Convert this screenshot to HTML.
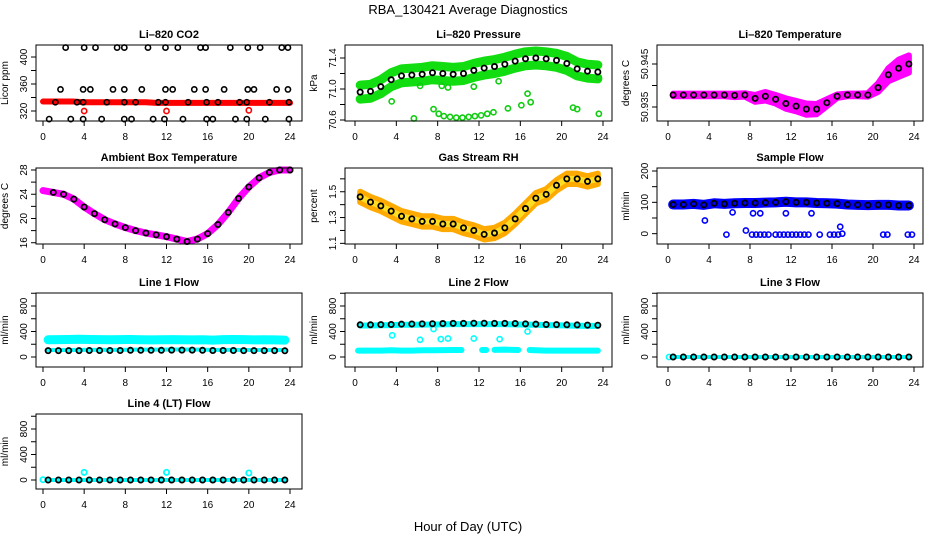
<!DOCTYPE html>
<html><head><meta charset="utf-8"><style>
html,body{margin:0;padding:0;background:#fff;}
svg{display:block;font-family:"Liberation Sans",sans-serif;}
</style></head><body>
<svg id="chart" width="936" height="540" viewBox="0 0 936 540" xmlns="http://www.w3.org/2000/svg">
<rect x="0" y="0" width="936" height="540" fill="#fff"/>
<text x="468" y="14" text-anchor="middle" font-size="13">RBA_130421  Average Diagnostics</text>
<text x="468" y="531" text-anchor="middle" font-size="13">Hour of Day (UTC)</text>
</svg>
<script>
// ---------- data ----------
const xTicks = [0,4,8,12,16,20,24];
const hourGrid = [0.5,1.5,2.5,3.5,4.5,5.5,6.5,7.5,8.5,9.5,10.5,11.5,12.5,13.5,14.5,15.5,16.5,17.5,18.5,19.5,20.5,21.5,22.5,23.5];
const hourFull = [0,1,2,3,4,5,6,7,8,9,10,11,12,13,14,15,16,17,18,19,20,21,22,23,24];

// CO2
const co2HighHours = [2.2,4.0,5.1,7.2,7.9,10.2,11.9,13.1,15.3,15.8,18.2,19.9,21.1,23.2,23.8];
const co2MidHours = [1.7,3.9,4.6,6.8,7.9,9.6,11.9,12.6,14.7,15.8,17.6,19.9,20.5,22.7,23.8];
const co2BandHours = [1.2,3.3,3.9,6.2,7.9,9.0,11.2,11.9,14.1,15.9,17.0,19.1,19.8,22.0,23.9];
const co2LowHours = [0.6,2.7,3.9,5.7,7.9,8.6,10.7,11.8,13.6,15.9,16.5,18.7,19.8,21.6,23.9];
const co2Levels = [414,352,333,308];
const co2Red = [334,334,334,334,333,333,333,333,333,333,333,332,332,332,332,332,332,332,332,332,332,332,332,332,332];
const co2RedOutHours = [4,12,20];
const co2RedOutVals = [320,320,321];

// Pressure
const presMean = [70.96,70.97,71.03,71.12,71.17,71.18,71.19,71.21,71.20,71.19,71.20,71.24,71.27,71.29,71.32,71.36,71.39,71.40,71.39,71.37,71.33,71.26,71.23,71.22];
const presOutHours = [3.55,5.7,6.3,7.6,8.1,8.4,9.0,11.5,13.9,14.8,16.1,16.7,17.0,21.1,21.5,23.6,23.6,8.6,9.2,9.8,10.4,11.0,11.6,12.2,12.8,13.4];
const presOutVals = [70.84,70.62,71.04,70.74,70.68,71.04,71.02,71.03,71.10,70.75,70.79,70.94,70.83,70.76,70.74,70.68,71.15,70.65,70.64,70.63,70.63,70.64,70.65,70.66,70.68,70.70];

// Li-820 temperature
const ltMean = [50.9378,50.9378,50.9378,50.9378,50.9378,50.9378,50.9377,50.9378,50.9370,50.9375,50.9368,50.9358,50.9352,50.9345,50.9345,50.9360,50.9375,50.9378,50.9378,50.9378,50.9395,50.9425,50.9440,50.9450];
const ltSpread = [0.0003,0.0003,0.0003,0.0003,0.0003,0.0003,0.0004,0.0004,0.0008,0.0010,0.0010,0.0012,0.0012,0.0013,0.0012,0.0008,0.0004,0.0003,0.0003,0.0004,0.0010,0.0015,0.0020,0.0020];

// Ambient box temperature
const ambVals = [24.6,24.3,24.0,23.2,21.9,20.8,19.8,19.1,18.5,18.0,17.6,17.3,17.0,16.6,16.2,16.6,17.5,19.0,21.0,23.3,25.2,26.7,27.6,28.0,28.0];

// Gas stream RH
const rhMean = [1.46,1.42,1.39,1.35,1.31,1.29,1.27,1.27,1.25,1.25,1.22,1.20,1.17,1.18,1.22,1.29,1.37,1.45,1.48,1.55,1.60,1.60,1.58,1.60];

// Sample flow
const sfMean = [93,93,95,92,97,95,97,98,98,99,100,102,100,100,98,97,96,93,92,91,92,92,90,90];
const sfOutHours = [3.6,6.3,8.3,9.0,11.5,14.0,16.8,7.6,5.7,8.2,8.6,9.0,9.4,9.8,10.5,10.9,11.3,11.7,12.1,12.5,12.9,13.3,13.7,14.8,15.8,16.2,16.6,17.0,21.0,21.4,23.4,23.8];
const sfOutVals = [42,68,65,65,65,65,22,10,-3,-3,-3,-3,-3,-3,-3,-3,-3,-3,-3,-3,-3,-3,-3,-3,-3,-3,-3,0,-3,-3,-3,-3];

// Line flows
const l1Upper = [270,272,275,278,275,273,270,272,275,270,268,270,272,270,268,270,265,272,274,272,268,270,268,265];
const l1Lower = [110,110,110,112,112,112,112,112,115,115,115,115,118,118,118,115,112,112,112,110,110,110,110,110];
const l1Mean = [100,100,100,100,102,102,102,102,105,105,105,105,108,108,108,105,102,102,102,100,100,100,100,98];
const l2Mean = [505,505,508,510,515,518,520,522,525,528,528,530,530,528,528,526,520,515,510,508,505,503,500,498];
const l2Upper = [495,495,498,500,505,505,508,510,512,515,515,516,515,515,515,512,508,505,500,498,495,490,488,488];
const l2LowHoursA = [0.3,1.5,2.5,3.5,4.5,5.5,6.5,7.5,8.5,9.5,10.3];
const l2LowValsA = [100,100,100,105,100,100,105,105,108,110,110];
const l2LowHoursB = [12.3,12.7];
const l2LowValsB = [110,110];
const l2LowHoursC = [13.5,14.5,15.8];
const l2LowValsC = [112,115,110];
const l2LowHoursD = [16.9,17.5,18.5,19.5,20.5,21.5,22.5,23.5];
const l2LowValsD = [110,105,100,100,100,100,100,100];
const l2OutHours = [3.6,6.3,7.6,8.3,9.0,11.5,14.0,16.7];
const l2OutVals = [340,270,440,280,290,290,280,400];
const l3Mean = [0,0,0,0,0,0,0,0,0,0,0,0,0,0,0,0,0,0,0,0,0,0,0,0];
const l4Mean = [0,0,0,0,0,0,0,0,0,0,0,0,0,0,0,0,0,0,0,0,0,0,0,0];
const l4OutHours = [4,12,20,0];
const l4OutVals = [120,120,110,5];

// ---------- drawing ----------
const NS = "http://www.w3.org/2000/svg";
const svg = document.getElementById('chart');
function el(tag, attrs, parent){
  const e = document.createElementNS(NS, tag);
  for (const k in attrs) e.setAttribute(k, attrs[k]);
  (parent||svg).appendChild(e);
  return e;
}
const cols = [{bx0:36,bx1:302,x0:43,x24:290},{bx0:345,bx1:612,x0:355,x24:603},{bx0:657,bx1:923,x0:668,x24:914}];
const rows = [{by0:45,by1:121},{by0:168,by1:244},{by0:293,by1:367},{by0:414,by1:489}];

function makePanel(name,title,ytitle,col,row,ymin,ymax,yTicks,yLabels){
  const c = cols[col], r = rows[row];
  const g = el('g',{});
  
  
  const sx = h => c.x0 + (h/24)*(c.x24-c.x0);
  const sy = v => r.by1 - (v-ymin)/(ymax-ymin)*(r.by1-r.by0);
  const plot = el('g',{},g);
  
  
  const box = el('rect',{x:c.bx0,y:r.by0,width:c.bx1-c.bx0,height:r.by1-r.by0,fill:'none',stroke:'#000','stroke-width':1},g);
  
  
  const t = el('text',{x:(c.bx0+c.bx1)/2,y:r.by0-7,'text-anchor':'middle','font-size':11,'font-weight':'bold'},g);
  t.textContent = title;
  
  
  const xa = el('g',{},g);
  
  
  el('line',{x1:sx(xTicks[0]),x2:sx(xTicks[xTicks.length-1]),y1:r.by1,y2:r.by1,stroke:'#000'},xa);
  xTicks.forEach(v=>{
    el('line',{x1:sx(v),x2:sx(v),y1:r.by1,y2:r.by1+5,stroke:'#000'},xa);
    const tl = el('text',{x:sx(v),y:r.by1+19,'text-anchor':'middle','font-size':10},xa);
    tl.textContent = v;
    
    
  });
  const ya = el('g',{},g);
  
  
  el('line',{x1:c.bx0,x2:c.bx0,y1:sy(yTicks[0]),y2:sy(yTicks[yTicks.length-1]),stroke:'#000'},ya);
  yTicks.forEach(v=>{
    el('line',{x1:c.bx0-5,x2:c.bx0,y1:sy(v),y2:sy(v),stroke:'#000'},ya);
  });
  yLabels.forEach(v=>{
    const x = c.bx0-9, y = sy(v);
    const tl = el('text',{x:x,y:y,'text-anchor':'middle','font-size':10,transform:`rotate(-90 ${x} ${y})`},ya);
    tl.textContent = v;
    
    
  });
  const yx = c.bx0-28, yy=(r.by0+r.by1)/2;
  const yt = el('text',{x:yx,y:yy,'text-anchor':'middle','font-size':10,transform:`rotate(-90 ${yx} ${yy})`},g);
  yt.textContent = ytitle;
  
  
  return {g:plot,sx,sy};
}
function circles(p,hs,vs,color,r,sw,nm){
  hs.forEach((h,i)=>{
    const e = el('circle',{cx:p.sx(h),cy:p.sy(vs[i]),r:r||2.6,fill:'none',stroke:color,'stroke-width':sw||1.6},p.g);
    
    
  });
}
function band(p,hs,vs,color,w,nm){
  const e = el('polyline',{points:hs.map((h,i)=>p.sx(h)+','+p.sy(vs[i])).join(' '),fill:'none',stroke:color,'stroke-width':w,'stroke-linejoin':'round','stroke-linecap':'round'},p.g);
  
  
}
function spreadBand(p,hs,vs,sp,color,nm){
  const up = hs.map((h,i)=>p.sx(h)+','+p.sy(vs[i]+sp[i]));
  const dn = hs.map((h,i)=>p.sx(h)+','+p.sy(vs[i]-sp[i])).reverse();
  const e = el('polygon',{points:up.concat(dn).join(' '),fill:color,stroke:color,'stroke-width':6,'stroke-linejoin':'round'},p.g);
  
  
}
function constArr(h,v){return h.map(()=>v);}

// CO2
let p = makePanel('co2-panel','Li\u2013820 CO2','Licor ppm',0,0,305.2,417.8,[320,340,360,380,400],[320,360,400]);
band(p,hourFull,co2Red,'#ff0000',6,'co2-red-band');
circles(p,co2RedOutHours,co2RedOutVals,'#ff0000',2.6,1.6,'co2-red-outlier');
circles(p,co2HighHours,constArr(co2HighHours,co2Levels[0]),'#000');
circles(p,co2MidHours,constArr(co2MidHours,co2Levels[1]),'#000');
circles(p,co2BandHours,constArr(co2BandHours,co2Levels[2]),'#000');
circles(p,co2LowHours,constArr(co2LowHours,co2Levels[3]),'#000');

// Pressure
p = makePanel('pressure-panel','Li\u2013820 Pressure','kPa',1,0,70.587,71.568,[70.6,70.8,71.0,71.2,71.4],['70.6','71.0','71.4']);
band(p,hourGrid,presMean.map(v=>v+0.09),'#11dd11',9,'pressure-upper-band');
band(p,hourGrid,presMean.map(v=>v-0.09),'#11dd11',9,'pressure-lower-band');
circles(p,presOutHours,presOutVals,'#11cc11',2.6,1.6,'pressure-outlier');
circles(p,hourGrid,presMean,'#000',2.6,1.8,'pressure-mean');

// Li-820 temperature
p = makePanel('li820-temp-panel','Li\u2013820 Temperature','degrees C',2,0,50.93174,50.94942,[50.935,50.940,50.945],['50.935','50.945']);
spreadBand(p,hourGrid,ltMean,ltSpread,'#ff00ff','li820-temp-band');
circles(p,hourGrid,ltMean,'#000',2.6,1.8,'li820-temp-mean');

// Ambient
p = makePanel('ambient-temp-panel','Ambient Box Temperature','degrees C',0,1,15.79,28.33,[16,18,20,22,24,26,28],[16,20,24,28]);
band(p,hourFull,ambVals,'#ff00ff',7,'ambient-band');
circles(p,hourFull.slice(1),ambVals.slice(1),'#000',2.6,1.8,'ambient-mean');

// RH
p = makePanel('rh-panel','Gas Stream RH','percent',1,1,1.095,1.684,[1.1,1.2,1.3,1.4,1.5,1.6],['1.1','1.3','1.5']);
spreadBand(p,hourGrid,rhMean,constArr(hourGrid,0.04),'#ffaa00','rh-band');
band(p,hourGrid,rhMean,'#ffdd22',6,'rh-band-core');
circles(p,hourGrid,rhMean,'#000',2.6,1.8,'rh-mean');

// Sample flow
p = makePanel('sample-flow-panel','Sample Flow','ml/min',2,1,-33,209.6,[0,50,100,150,200],[0,100,200]);
band(p,hourGrid,sfMean,'#0000ff',10,'sample-flow-band');
circles(p,sfOutHours,sfOutVals,'#0000ff',2.6,1.6,'sample-flow-outlier');
circles(p,hourGrid,sfMean,'#000',2.6,1.8,'sample-flow-mean');

// Line 1
p = makePanel('line1-panel','Line 1 Flow','ml/min',0,2,-157,1004,[0,200,400,600,800,1000],[0,400,800]);
band(p,hourGrid,l1Upper,'#00ffff',9,'line1-upper-band');
band(p,hourGrid,l1Lower,'#00ffff',4,'line1-lower-band');
circles(p,hourGrid,l1Mean,'#000',2.6,1.8,'line1-mean');

// Line 2
p = makePanel('line2-panel','Line 2 Flow','ml/min',1,2,-157,1004,[0,200,400,600,800,1000],[0,400,800]);
band(p,hourGrid,l2Upper,'#00ffff',6,'line2-upper-band');
band(p,l2LowHoursA,l2LowValsA,'#00ffff',6,'line2-lower-band');
band(p,l2LowHoursB,l2LowValsB,'#00ffff',6,'line2-lower-band');
band(p,l2LowHoursC,l2LowValsC,'#00ffff',6,'line2-lower-band');
band(p,l2LowHoursD,l2LowValsD,'#00ffff',6,'line2-lower-band');
circles(p,l2OutHours,l2OutVals,'#00ffff',2.6,1.6,'line2-outlier');
circles(p,hourGrid,l2Mean,'#000',2.6,1.8,'line2-mean');

// Line 3
p = makePanel('line3-panel','Line 3 Flow','ml/min',2,2,-157,1004,[0,200,400,600,800,1000],[0,400,800]);
band(p,hourGrid,l3Mean,'#00ffff',4,'line3-band');
circles(p,[0.1],[0],'#00ffff',2.6,1.6,'line3-start');
circles(p,hourGrid,l3Mean,'#000',2.6,1.8,'line3-mean');

// Line 4
p = makePanel('line4-panel','Line 4 (LT) Flow','ml/min',0,3,-141,1035,[0,200,400,600,800,1000],[0,400,800]);
band(p,hourGrid,l4Mean,'#00ffff',4,'line4-band');
circles(p,l4OutHours,l4OutVals,'#00ffff',2.6,1.8,'line4-outlier');
circles(p,hourGrid,l4Mean,'#000',2.6,1.8,'line4-mean');
</script>
</body></html>
